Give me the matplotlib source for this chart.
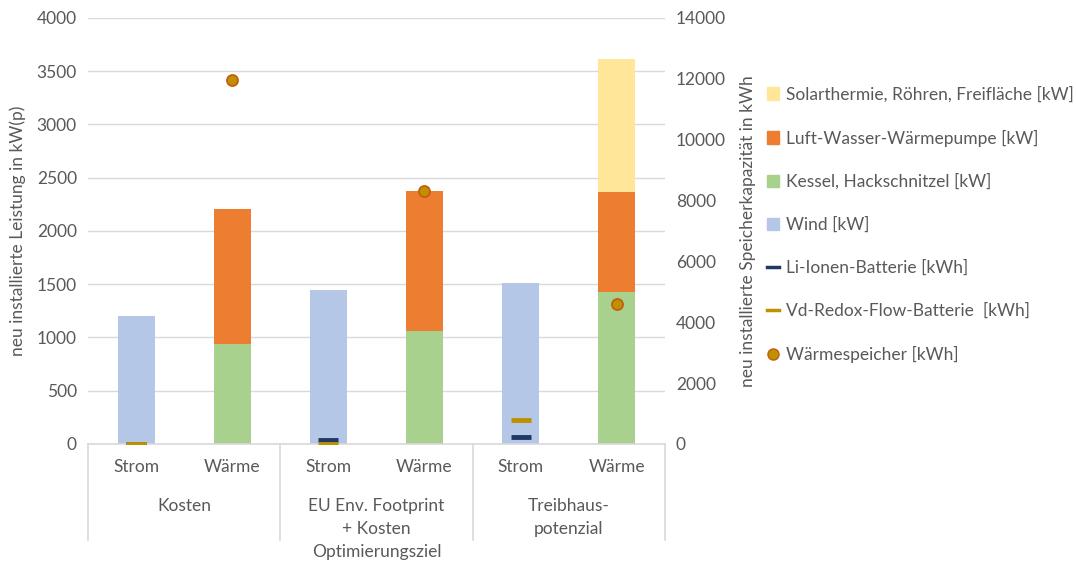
import numpy as np
import matplotlib
matplotlib.use("Agg")
import matplotlib.pyplot as plt
from matplotlib.patches import Patch
from matplotlib.lines import Line2D

plt.rcParams['font.family'] = ['Lato', 'DejaVu Sans']

# Werte je Kategorie (Strom/Wärme je Optimierungsziel)
gruppen = ["Kosten", "EU Env. Footprint\n+ Kosten", "Treibhaus-\npotenzial"]
sektoren = ["Strom", "Wärme"]
wind = [1200, 0, 1450, 0, 1510, 0]
kessel = [0, 940, 0, 1060, 0, 1430]
waermepumpe = [0, 1270, 0, 1320, 0, 940]
solarthermie = [0, 0, 0, 0, 0, 1245]

# Speicher (rechte Achse, kWh)
li_ionen = [0, 120, 230]
vd_redox = [0, 10, 790]
waermespeicher = [11950, 8300, 4600]

grau = '#595959'
linie = '#D9D9D9'
farben = {
    'wind': '#B4C7E7', 'kessel': '#A9D18E', 'wp': '#ED7D31', 'solar': '#FFE699',
    'li': '#203864', 'vd': '#BF9000', 'ws': '#BF9000', 'ws_rand': '#C55A11',
}

fig = plt.figure(figsize=(10.76, 5.65), dpi=100)
ax = fig.add_axes([0.0818, 0.2142, 0.536, 0.754])
ax2 = ax.twinx()

x = np.arange(len(wind))
b = 0.385
ax.bar(x, wind, b, color=farben['wind'], zorder=2)
ax.bar(x, kessel, b, color=farben['kessel'], zorder=2)
unten = np.array(kessel)
ax.bar(x, waermepumpe, b, bottom=unten, color=farben['wp'], zorder=2)
unten = unten + np.array(waermepumpe)
ax.bar(x, solarthermie, b, bottom=unten, color=farben['solar'], zorder=2)

x_strom = x[0::2]
x_waerme = x[1::2]
ax2.plot(x_strom, li_ionen, ls='none', marker='_', ms=14, mew=3.5, color=farben['li'], zorder=3)
ax2.plot(x_strom, vd_redox, ls='none', marker='_', ms=14, mew=3.5, color=farben['vd'], zorder=3)
ax2.plot(x_waerme, waermespeicher, ls='none', marker='o', ms=8, mfc=farben['ws'],
         mec=farben['ws_rand'], mew=1.2, zorder=3)

ax.set_xlim(-0.5, 5.5)
ax.set_ylim(0, 4000)
ax.set_yticks(np.arange(0, 4001, 500))
ax2.set_ylim(0, 14000)
ax2.set_yticks(np.arange(0, 14001, 2000))
ax.set_xticks([])

for a in (ax, ax2):
    for s in a.spines.values():
        s.set_visible(False)
    a.tick_params(axis='y', length=0, labelsize=12.5, labelcolor=grau, pad=8)
ax.spines['bottom'].set_visible(True)
ax.spines['bottom'].set_color(linie)
ax.spines['bottom'].set_linewidth(1.2)
ax.grid(axis='y', color=linie, lw=1, zorder=0)
ax.set_axisbelow(True)

ax.set_ylabel("neu installierte Leistung in kW(p)", fontsize=12.5, color=grau, labelpad=8)
ax2.set_ylabel("neu installierte Speicherkapazität in kWh", fontsize=12.5, color=grau, labelpad=10)

# Mehrstufige Kategorienbeschriftung
trans = ax.get_xaxis_transform()
for i in x:
    ax.text(i, -0.054, sektoren[i % 2], transform=trans, ha='center', va='center',
            fontsize=12.5, color=grau)
for g, name in enumerate(gruppen):
    ax.text(2 * g + 0.5, -0.127, name, transform=trans, ha='center', va='top',
            fontsize=12.5, color=grau, linespacing=1.5)
for xs in [-0.5, 1.5, 3.5, 5.5]:
    ax.plot([xs, xs], [0, -0.225], transform=trans, color=linie, lw=1.2, clip_on=False)
ax.text(2.5, -0.2535, "Optimierungsziel", transform=trans, ha='center', va='center',
        fontsize=12.5, color=grau)

handles = [
    Patch(color=farben['solar']),
    Patch(color=farben['wp']),
    Patch(color=farben['kessel']),
    Patch(color=farben['wind']),
    Line2D([], [], color=farben['li'], lw=2.5),
    Line2D([], [], color=farben['vd'], lw=2.5),
    Line2D([], [], ls='none', marker='o', ms=8, mfc=farben['ws'], mec=farben['ws_rand']),
]
labels = [
    "Solarthermie, Röhren, Freifläche [kW]",
    "Luft-Wasser-Wärmepumpe [kW]",
    "Kessel, Hackschnitzel [kW]",
    "Wind [kW]",
    "Li-Ionen-Batterie [kWh]",
    "Vd-Redox-Flow-Batterie  [kWh]",
    "Wärmespeicher [kWh]",
]
leg = fig.legend(handles, labels, loc='upper left', bbox_to_anchor=(0.698, 0.875),
                 frameon=False, fontsize=12.5, labelcolor=grau, handlelength=0.7,
                 handleheight=0.7, handletextpad=0.4, labelspacing=1.55)

fig.savefig("out.png", dpi=100)
